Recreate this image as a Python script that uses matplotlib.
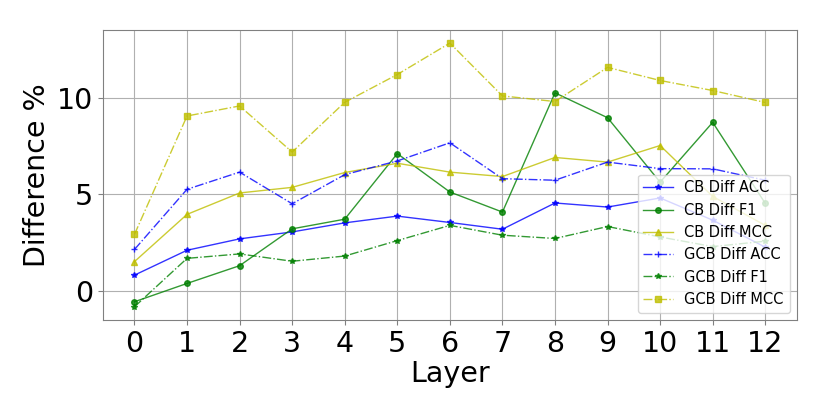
import matplotlib
matplotlib.use('Agg')
import matplotlib.pyplot as plt
import numpy as np

layers = list(range(13))

cb_acc = [0.81, 2.10, 2.69, 3.05, 3.52, 3.87, 3.54, 3.19, 4.55, 4.34, 4.81, 3.66, 2.26]
cb_f1 = [-0.57, 0.38, 1.30, 3.21, 3.71, 7.11, 5.12, 4.08, 10.26, 8.97, 5.63, 8.73, 4.53]
cb_mcc = [1.51, 3.96, 5.07, 5.36, 6.13, 6.61, 6.15, 5.92, 6.91, 6.67, 7.53, 4.89, 3.39]
gcb_acc = [2.14, 5.26, 6.15, 4.51, 6.02, 6.73, 7.67, 5.81, 5.73, 6.67, 6.33, 6.32, 5.73]
gcb_f1 = [-0.83, 1.68, 1.91, 1.53, 1.80, 2.60, 3.39, 2.88, 2.71, 3.33, 2.79, 2.29, 2.57]
gcb_mcc = [2.92, 9.06, 9.58, 7.19, 9.77, 11.21, 12.84, 10.10, 9.81, 11.58, 10.90, 10.38, 9.76]

fig, ax = plt.subplots(figsize=(8.3, 4.15), dpi=100)

# CB - solid, GCB - dash-dot
ax.plot(layers, cb_acc, color='b', marker='*', markersize=4, linewidth=1, alpha=0.8, label='CB Diff ACC')
ax.plot(layers, cb_f1, color='g', marker='o', markersize=4, linewidth=1, alpha=0.8, label='CB Diff F1')
ax.plot(layers, cb_mcc, color='y', marker='^', markersize=4, linewidth=1, alpha=0.8, label='CB Diff MCC')
ax.plot(layers, gcb_acc, color='b', marker='+', markersize=4, linewidth=1, linestyle='-.', alpha=0.8, label='GCB Diff ACC')
ax.plot(layers, gcb_f1, color='g', marker='*', markersize=4, linewidth=1, linestyle='-.', alpha=0.8, label='GCB Diff F1')
ax.plot(layers, gcb_mcc, color='y', marker='s', markersize=4, linewidth=1, linestyle='-.', alpha=0.8, label='GCB Diff MCC')

ax.set_xticks(layers)
ax.tick_params(labelsize=20.5, color='grey')
ax.set_xlabel('Layer', fontsize=20.5, labelpad=2)
ax.set_ylabel('Difference %', fontsize=20.5)
ax.grid(True, color='#b0b0b0', linewidth=0.8)
for s in ax.spines.values():
    s.set_color('grey')
ax.legend(loc='lower right', fontsize=10.5)

plt.subplots_adjust(left=0.124, right=0.96, top=0.928, bottom=0.229)
plt.savefig('out.png')
